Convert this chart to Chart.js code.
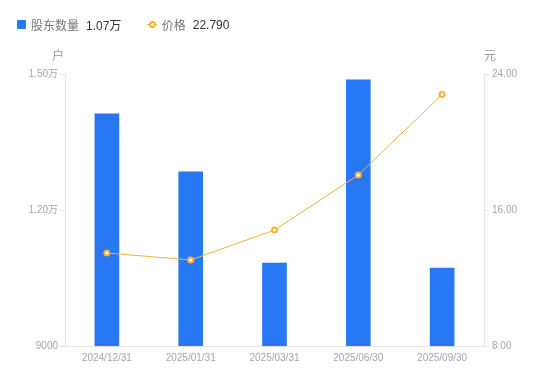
<!DOCTYPE html>
<html>
<head>
<meta charset="utf-8">
<script src="https://cdn.jsdelivr.net/npm/chart.js@4/dist/chart.umd.min.js"></script>
<style>
body { margin: 0; background: #fff; font-family: "Liberation Sans", "Noto Sans CJK SC", sans-serif; }
#wrap { position: relative; width: 550px; height: 381px; }
#legend { position: absolute; left: 17px; top: 16px; font-size: 12px; white-space: nowrap; }
#legend span { display: inline-block; vertical-align: middle; }
.lab { color: #777; margin-left: 5px; }
.val { color: #333; margin-left: 7px; }
.sq { width: 9px; height: 9px; background: #2878f5; border-radius: 1px; }
</style>
</head>
<body>
<div id="wrap">
<div id="legend">
  <span class="sq"></span><span class="lab">股东数量</span><span class="val">1.07万</span>
  <span style="margin-left:22px;position:relative;width:10px;height:9px">
    <span style="position:absolute;left:0;top:4px;width:10px;height:1px;background:#f8b13a"></span>
    <span style="position:absolute;left:2px;top:1px;width:3px;height:3px;border:2px solid #f8b13a;border-radius:50%;background:#fff"></span>
  </span><span class="lab">价格</span><span class="val">22.790</span>
</div>
<canvas id="c" width="550" height="381"></canvas>
</div>
<script>
var dates = ["2024/12/31", "2025/01/31", "2025/03/31", "2025/06/30", "2025/09/30"];
var holders = [14120, 12840, 10830, 14870, 10720];
var price = [13.47, 13.06, 14.82, 18.06, 22.79];

var tickColor = "#a3a6b4";
var lineColor = "#e3e4ea";
var fontFam = "'Liberation Sans', 'Noto Sans CJK SC', sans-serif";

var unitTitles = {
  id: "unitTitles",
  afterDraw: function(chart) {
    var ctx = chart.ctx, a = chart.chartArea;
    ctx.save();
    ctx.fillStyle = "#999";
    ctx.font = "12px " + fontFam;
    ctx.textAlign = "center";
    ctx.textBaseline = "middle";
    ctx.fillText("户", a.left - 7, 57);
    ctx.fillText("元", a.right + 6, 57);
    ctx.restore();
  }
};

new Chart(document.getElementById("c"), {
  type: "bar",
  data: {
    labels: dates,
    datasets: [
      {
        type: "line",
        label: "价格",
        data: price,
        yAxisID: "y1",
        borderColor: "#f8b13a",
        borderWidth: 1,
        pointRadius: 2.5,
        pointBorderWidth: 2,
        pointBackgroundColor: "#fff",
        pointBorderColor: "#f8b13a",
        tension: 0,
        order: 0
      },
      {
        label: "股东数量",
        data: holders,
        yAxisID: "y",
        backgroundColor: "#2878f5",
        barThickness: 24,
        order: 1
      }
    ]
  },
  options: {
    responsive: false,
    animation: false,
    layout: { padding: { top: 74, bottom: 0, left: 0, right: 0 } },
    plugins: { legend: { display: false }, tooltip: { enabled: false } },
    scales: {
      x: {
        offset: true,
        grid: { display: false, drawTicks: false },
        border: { color: lineColor },
        ticks: { color: tickColor, font: { size: 10, family: fontFam }, padding: 6, maxRotation: 0 },
        afterFit: function(s) { s.height = 35; }
      },
      y: {
        position: "left",
        min: 9000, max: 15000,
        grid: { drawOnChartArea: false, color: lineColor, tickLength: 5 },
        border: { color: lineColor },
        ticks: {
          stepSize: 3000, color: tickColor, font: { size: 10, family: fontFam }, padding: 2,
          callback: function(v) { return v >= 10000 ? (v / 10000).toFixed(2) + "万" : String(v); }
        },
        afterFit: function(s) { s.width = 65; }
      },
      y1: {
        position: "right",
        min: 8, max: 24,
        grid: { drawOnChartArea: false, color: lineColor, tickLength: 5 },
        border: { color: lineColor },
        ticks: {
          stepSize: 8, color: tickColor, font: { size: 10, family: fontFam }, padding: 3,
          callback: function(v) { return v.toFixed(2); }
        },
        afterFit: function(s) { s.width = 66; }
      }
    }
  },
  plugins: [unitTitles]
});
</script>
</body>
</html>
